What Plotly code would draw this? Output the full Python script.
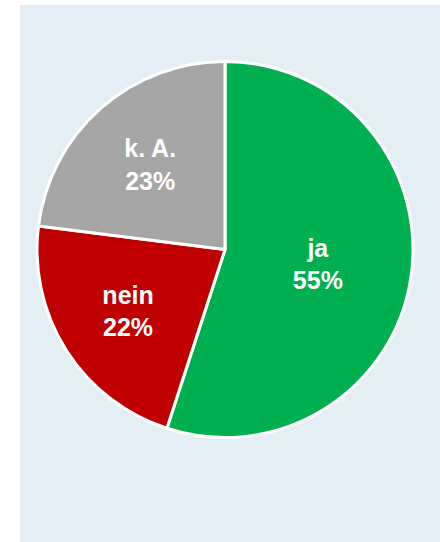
import plotly.graph_objects as go

labels = ["ja", "nein", "k. A."]
values = [55, 22, 23]
colors = ["#00B050", "#C00000", "#A6A6A6"]

W, H = 440, 542
cx, cy, r = 225, 249.5, 188

fig = go.Figure(go.Pie(
    labels=labels,
    values=values,
    sort=False,
    direction="clockwise",
    rotation=0,
    marker=dict(colors=colors, line=dict(color="white", width=3)),
    texttemplate="%{label}<br>%{percent:.0%}",
    textposition="inside",
    insidetextorientation="horizontal",
    textfont=dict(family="Liberation Sans, Arial, sans-serif", size=25, color="white", weight="bold"),
    hoverinfo="label+percent",
    domain=dict(x=[(cx - r) / W, (cx + r) / W], y=[1 - (cy + r) / H, 1 - (cy - r) / H]),
    showlegend=False,
))

fig.update_layout(
    width=W, height=H,
    margin=dict(l=0, r=0, t=0, b=0),
    paper_bgcolor="white",
    plot_bgcolor="white",
    shapes=[dict(type="rect", xref="paper", yref="paper",
                 x0=20 / W, x1=1, y0=0, y1=1 - 5 / H,
                 fillcolor="#E3EEF5", line=dict(width=0), layer="below")],
)

fig.write_html("out.html", config={"displayModeBar": False},
               post_script="document.body.style.margin='0';")
